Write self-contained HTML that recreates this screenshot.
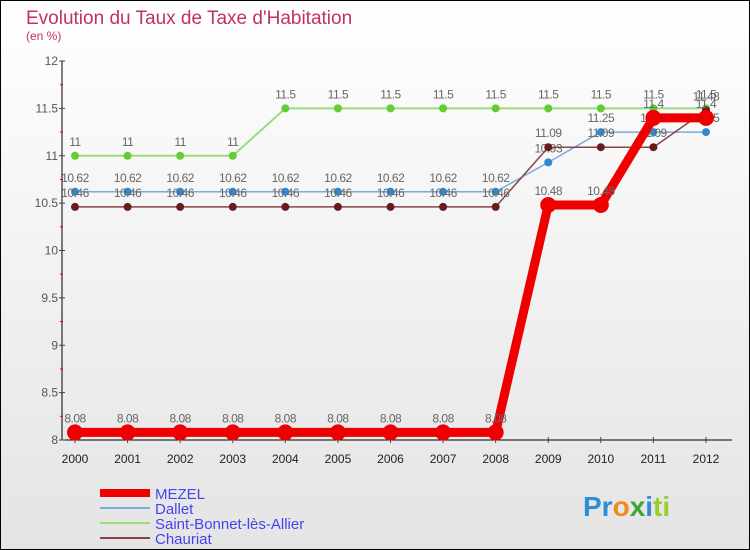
<!DOCTYPE html>
<html><head><meta charset="utf-8"><style>
body{margin:0;width:750px;height:550px;overflow:hidden}
svg{display:block;font-family:"Liberation Sans",sans-serif}
</style></head><body>
<svg width="750" height="550">
<defs><linearGradient id="bg" x1="0" y1="0" x2="0" y2="1"><stop offset="0" stop-color="#ffffff"/><stop offset="1" stop-color="#e4e4e4"/></linearGradient></defs>
<rect x="0.5" y="0.5" width="749" height="549" fill="url(#bg)" stroke="#000"/>
<text x="26" y="24" font-size="19" fill="#c0335e">Evolution du Taux de Taxe d'Habitation</text>
<text x="26" y="40" font-size="12" fill="#c0335e">(en %)</text>
<g id="axes"></g><g id="series"></g>
<g id="legend"></g>
<text x="583" y="516" font-size="28" font-weight="bold"><tspan fill="#2a8fd6">Pr</tspan><tspan fill="#f08a1c">o</tspan><tspan fill="#3aa53a">x</tspan><tspan fill="#2a8fd6">i</tspan><tspan fill="#9ccc2c">ti</tspan></text>
</svg>
<script>
const years=[2000,2001,2002,2003,2004,2005,2006,2007,2008,2009,2010,2011,2012];
const yTicks=[8,8.5,9,9.5,10,10.5,11,11.5,12];
const mezel=[8.08,8.08,8.08,8.08,8.08,8.08,8.08,8.08,8.08,10.48,10.48,11.4,11.4];
const dallet=[10.62,10.62,10.62,10.62,10.62,10.62,10.62,10.62,10.62,10.93,11.25,11.25,11.25];
const stbonnet=[11,11,11,11,11.5,11.5,11.5,11.5,11.5,11.5,11.5,11.5,11.5];
const chauriat=[10.46,10.46,10.46,10.46,10.46,10.46,10.46,10.46,10.46,11.09,11.09,11.09,11.48];
const names=["MEZEL","Dallet","Saint-Bonnet-lès-Allier","Chauriat"];
const NS="http://www.w3.org/2000/svg";
const X=i=>75+i*(706-75)/12;
const Y=v=>440-(v-8)*(440-61)/4;
function mk(t,a,p){const e=document.createElementNS(NS,t);for(const k in a)e.setAttribute(k,a[k]);p.appendChild(e);return e;}
const ax=document.getElementById('axes');
let l=mk('line',{x1:62,y1:61,x2:62,y2:440,stroke:'#000'},ax);


l=mk('line',{x1:62,y1:440,x2:732,y2:440,stroke:'#000'},ax);


yTicks.forEach(v=>{const t=mk('text',{x:58,y:Y(v)+4,'font-size':12,fill:'#555','text-anchor':'end'},ax);t.textContent=v;


mk('line',{x1:59,x2:65,y1:Y(v),y2:Y(v),stroke:'#444'},ax);
if(v<12)mk('line',{x1:60,x2:63,y1:Y(v+0.25),y2:Y(v+0.25),stroke:'#e00'},ax);});
years.forEach((yr,i)=>{const t=mk('text',{x:X(i),y:463,'font-size':12,fill:'#222','text-anchor':'middle'},ax);t.textContent=yr;


mk('line',{x1:X(i),x2:X(i),y1:437,y2:443,stroke:'#444'},ax);});
const sg=document.getElementById('series');
const defs=[[stbonnet,'#99dd77','#66cc33',2,4,'series-saint-bonnet'],[dallet,'#77aadd','#3388cc',1.5,4,'series-dallet'],[chauriat,'#884444','#661c1c',1.5,4,'series-chauriat'],[mezel,'#ee0000','#ee0000',9,8,'series-mezel']];
defs.forEach(([d,lc,pc,w,r,n])=>{const g=mk('g',{},sg);


mk('polyline',{points:d.map((v,i)=>X(i)+','+Y(v)).join(' '),fill:'none',stroke:lc,'stroke-width':w,'stroke-linejoin':'round'},g);
d.forEach((v,i)=>{const c=mk('circle',{cx:X(i),cy:Y(v),r:r,fill:pc},g);


const t=mk('text',{x:X(i),y:Y(v)-10,'font-size':12,fill:'#666','text-anchor':'middle','letter-spacing':'-0.5'},g);t.textContent=v;

});});
const lg=document.getElementById('legend');
const lcols=['#ee0000','#77aadd','#99dd77','#884444'],lw=[8,2,2,2];
names.forEach((n,i)=>{const y=493+i*15;mk('line',{x1:100,x2:150,y1:y,y2:y,stroke:lcols[i],'stroke-width':lw[i]},lg);
const t=mk('text',{x:155,y:y+6,'font-size':15,fill:'#4444ee'},lg);t.textContent=n;

});
</script>
</body></html>
